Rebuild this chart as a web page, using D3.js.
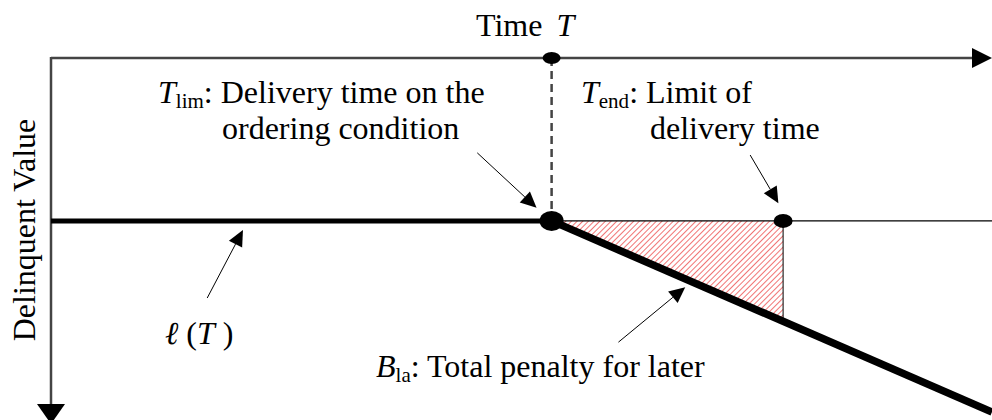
<!DOCTYPE html>
<html>
<head>
<meta charset="utf-8">
<script src="https://cdn.jsdelivr.net/npm/d3@7"></script>
<style>
  html, body { margin: 0; padding: 0; background: #fff; }
  svg { display: block; }
  text { font-family: "Liberation Serif", "Times New Roman", serif; fill: #000; }
</style>
</head>
<body>
<svg id="chart" width="992" height="420"></svg>
<script>
// ---- data (conceptual units: time 0..100, delinquent value 0..100 growing downward) ----
const timeDomain = [0, 100];
const valueDomain = [0, 100];
const keyTimes = { lim: 53.2, end: 77.8 };           // T_lim, T_end
const levelTimes = [0, 53.2];                          // ℓ(T) flat part
const levelValues = [45, 45];
const penaltyTimes = [53.2, 100];                      // sloped part after T_lim
const penaltyValues = [45, 97.8];
const hatchTimes = [53.2, 77.8, 77.8];                 // B_la triangle
const hatchValues = [45, 45, 72.4];
const refTimes = [53.2, 100];                          // thin level line
const refValues = [45, 45];
// annotation arrows: [fromT, fromV, toT, toV]
const arrowFromT = [45.3, 74.3, 16.6, 60.3];
const arrowFromV = [26.2, 26.8, 66.3, 78.5];
const arrowToT   = [51.6, 77.3, 20.4, 67.4];
const arrowToV   = [41.4, 40.1, 47.5, 63.3];

const svg = d3.select("#chart");
const x = d3.scaleLinear().domain(timeDomain).range([51, 992]);
const y = d3.scaleLinear().domain(valueDomain).range([58, 420]);
const line = d3.line().x(d => x(d[0])).y(d => y(d[1]));
const zip = (a, b) => a.map((v, i) => [v, b[i]]);

// hatch pattern
const defs = svg.append("defs");
const pat = defs.append("pattern").attr("id", "hatch").attr("patternUnits", "userSpaceOnUse")
  .attr("width", 4).attr("height", 4).attr("patternTransform", "rotate(45)");
pat.append("line").attr("x1", 0).attr("y1", 0).attr("x2", 0).attr("y2", 4)
  .attr("stroke", "#f06464").attr("stroke-width", 1.8);

// hatched triangle
svg.append("path").datum(zip(hatchTimes, hatchValues))
  .attr("d", d => line(d) + "Z").attr("fill", "url(#hatch)").attr("stroke", "none");
// vertical edge at T_end
svg.append("line").attr("x1", x(keyTimes.end)).attr("x2", x(keyTimes.end))
  .attr("y1", y(hatchValues[1])).attr("y2", y(hatchValues[2]))
  .attr("stroke", "#000").attr("stroke-width", 1);

// axes
const axisColor = "#444";
svg.append("line").attr("x1", x(0)).attr("x2", 975).attr("y1", y(0)).attr("y2", y(0))
  .attr("stroke", axisColor).attr("stroke-width", 2.5);
svg.append("path").attr("d", `M972,${y(0) - 10}L992,${y(0)}L972,${y(0) + 10}Z`).attr("fill", "#000");
svg.append("line").attr("x1", x(0)).attr("x2", x(0)).attr("y1", y(0) - 1).attr("y2", 406)
  .attr("stroke", axisColor).attr("stroke-width", 2.5);
svg.append("path").attr("d", `M${x(0) - 14},404L${x(0)},424L${x(0) + 14},404Z`).attr("fill", "#000");

// dashed guide at T_lim
svg.append("line").attr("x1", x(keyTimes.lim)).attr("x2", x(keyTimes.lim))
  .attr("y1", y(0)).attr("y2", y(levelValues[0]) - 10)
  .attr("stroke", axisColor).attr("stroke-width", 2.5).attr("stroke-dasharray", "8,5");

// thin reference line
svg.append("path").datum(zip(refTimes, refValues)).attr("d", line)
  .attr("fill", "none").attr("stroke", "#000").attr("stroke-width", 1.2);

// thick curve ℓ(T)
svg.append("path").datum(zip(levelTimes, levelValues)).attr("d", line)
  .attr("fill", "none").attr("stroke", "#000").attr("stroke-width", 5);
svg.append("path").datum(zip(penaltyTimes, penaltyValues)).attr("d", line)
  .attr("fill", "none").attr("stroke", "#000").attr("stroke-width", 7.5);

// dots
svg.append("ellipse").attr("cx", x(keyTimes.lim)).attr("cy", y(0)).attr("rx", 9).attr("ry", 6);
svg.append("ellipse").attr("cx", x(keyTimes.lim)).attr("cy", y(levelValues[0])).attr("rx", 12).attr("ry", 10);
svg.append("ellipse").attr("cx", x(keyTimes.end)).attr("cy", y(levelValues[0])).attr("rx", 9.5).attr("ry", 7);

// annotation arrows
arrowFromT.forEach((ft, i) => {
  const x1 = x(ft), y1 = y(arrowFromV[i]), x2 = x(arrowToT[i]), y2 = y(arrowToV[i]);
  const a = Math.atan2(y2 - y1, x2 - x1), L = 16, W = 7.5;
  const bx = x2 - L * Math.cos(a), by = y2 - L * Math.sin(a);
  svg.append("line").attr("x1", x1).attr("y1", y1).attr("x2", bx).attr("y2", by)
    .attr("stroke", "#000").attr("stroke-width", 1);
  const p = [[x2, y2], [bx + W * Math.sin(a), by - W * Math.cos(a)], [bx - W * Math.sin(a), by + W * Math.cos(a)]];
  svg.append("path").attr("d", "M" + p.join("L") + "Z").attr("fill", "#000");
});

// texts
const fs = 32, sub = 21;
function label(tx, ty, parts) {
  const t = svg.append("text").attr("x", tx).attr("y", ty).attr("font-size", fs);
  parts.forEach(p => {
    const s = t.append("tspan").text(p.t);
    if (p.i) s.attr("font-style", "italic");
    if (p.sub) s.attr("font-size", sub).attr("dy", 5);
    if (p.up) s.attr("dy", -5);
    if (p.dx) s.attr("dx", p.dx);
  });
  return t;
}
label(476, 36, [{t: "Time "}, {t: "T", i: true, dx: 6}]);
label(158, 103, [{t: "T", i: true}, {t: "lim", sub: true}, {t: ": Delivery time on the", up: true}]);
label(222, 139, [{t: "ordering condition"}]);
label(581, 103, [{t: "T", i: true}, {t: "end", sub: true}, {t: ": Limit of", up: true}]);
label(650, 139, [{t: "delivery time"}]);
label(165, 344, [{t: "ℓ", i: true}, {t: " ("}, {t: "T", i: true}, {t: " )"}]);
label(376, 377, [{t: "B", i: true}, {t: "la", sub: true}, {t: ": Total penalty for later", up: true}]);
svg.append("text").attr("transform", "translate(35,230) rotate(-90)")
  .attr("text-anchor", "middle").attr("font-size", fs).text("Delinquent Value");
</script>
</body>
</html>
